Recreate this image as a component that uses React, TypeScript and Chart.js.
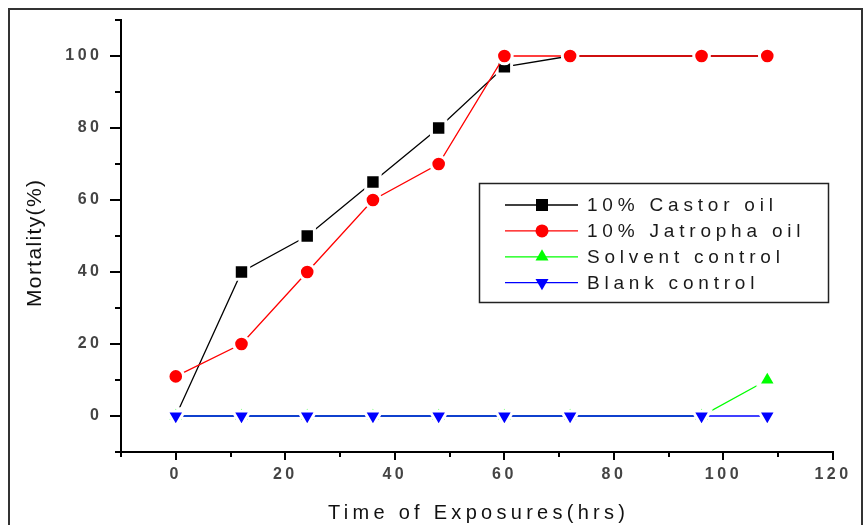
import React, { useEffect, useRef } from 'react';
import { Chart, registerables } from 'chart.js';

Chart.register(...registerables);

// ---- data ----
const hours = [0, 12, 24, 36, 48, 60, 72, 96, 108];
const castorOil = [0, 40, 50, 65, 80, 97, 100, 100, 100];
const jatrophaOil = [11, 20, 40, 60, 70, 100, 100, 100, 100];
const solventControl = [0, 0, 0, 0, 0, 0, 0, 0, 10];
const blankControl = [0, 0, 0, 0, 0, 0, 0, 0, 0];
const seriesLabels = ['10% Castor oil', '10% Jatropha oil', 'Solvent control', 'Blank control'];
const xTickLabels = [0, 20, 40, 60, 80, 100, 120];
const yTickLabels = [0, 20, 40, 60, 80, 100];
const xTitle = 'Time of Exposures(hrs)';
const yTitle = 'Mortality(%)';

const FONT = "'Liberation Sans', Arial, sans-serif";

const toPoints = (ys: number[]) => hours.map((h, i) => ({ x: h, y: ys[i] }));

function drawMarker(ctx: CanvasRenderingContext2D, style: string, rotation: number, x: number, y: number, color: string) {
  ctx.save();
  ctx.fillStyle = color;
  ctx.beginPath();
  if (style === 'rect') {
    ctx.rect(x - 6, y - 6, 12, 12);
  } else if (style === 'circle') {
    ctx.arc(x, y, 6.5, 0, Math.PI * 2);
  } else {
    const R = 7.5;
    const s = rotation === 180 ? -1 : 1;
    ctx.moveTo(x, y - s * R);
    ctx.lineTo(x + R * 0.866, y + s * R / 2);
    ctx.lineTo(x - R * 0.866, y + s * R / 2);
    ctx.closePath();
  }
  ctx.fill();
  ctx.restore();
}

function drawFitText(
  ctx: CanvasRenderingContext2D, text: string, cx: number, cy: number, font: string,
  width: number, color: string, baseline: CanvasTextBaseline, rotate = 0
) {
  ctx.save();
  ctx.translate(cx, cy);
  if (rotate) ctx.rotate(rotate);
  ctx.font = font;
  ctx.fillStyle = color;
  ctx.textBaseline = baseline;
  ctx.textAlign = 'left';
  (ctx as any).letterSpacing = '0px';
  const w = ctx.measureText(text).width;
  const sp = (width - w) / (text.length - 1);
  (ctx as any).letterSpacing = sp + 'px';
  ctx.fillText(text, -width / 2, 0);
  ctx.restore();
}

const decorPlugin = {
  id: 'decor',
  beforeUpdate(chart: any) {
    chart.ctx.letterSpacing = '3.5px';
  },
  beforeDraw(chart: any) {
    const ctx: CanvasRenderingContext2D = chart.ctx;
    ctx.save();
    ctx.fillStyle = '#ffffff';
    ctx.fillRect(0, 0, chart.width, chart.height);
    ctx.strokeStyle = '#333333';
    ctx.lineWidth = 2;
    ctx.beginPath();
    ctx.moveTo(9, 525);
    ctx.lineTo(9, 9);
    ctx.lineTo(862, 9);
    ctx.lineTo(862, 525);
    ctx.stroke();
    ctx.restore();
    (ctx as any).letterSpacing = '3.5px';
  },
  afterDraw(chart: any) {
    const ctx: CanvasRenderingContext2D = chart.ctx;
    const xs = chart.scales.x;
    const ys = chart.scales.y;
    const area = chart.chartArea;
    // tick marks
    ctx.save();
    ctx.strokeStyle = '#000';
    ctx.lineWidth = 2;
    ys.ticks.forEach((t: any) => {
      const py = Math.round(ys.getPixelForValue(t.value));
      const major = yTickLabels.includes(t.value);
      const len = major ? 11 : 6;
      ctx.beginPath();
      ctx.moveTo(area.left - len, py);
      ctx.lineTo(area.left, py);
      ctx.stroke();
    });
    xs.ticks.forEach((t: any) => {
      const px = Math.round(xs.getPixelForValue(t.value));
      const major = xTickLabels.includes(t.value);
      const len = major ? 8 : 5;
      ctx.beginPath();
      ctx.moveTo(px, area.bottom);
      ctx.lineTo(px, area.bottom + len);
      ctx.stroke();
    });
    ctx.restore();

    // axis titles
    drawFitText(ctx, xTitle, 476.5, 519, `20px ${FONT}`, 297, '#111', 'alphabetic');
    drawFitText(ctx, yTitle, 35, 243.5, `21px ${FONT}`, 127, '#111', 'middle', -Math.PI / 2);

    // legend
    ctx.save();
    ctx.strokeStyle = '#222';
    ctx.lineWidth = 1.5;
    ctx.strokeRect(479.5, 183.5, 349, 119);
    chart.data.datasets.forEach((ds: any, i: number) => {
      const y = 205 + i * 25.9;
      ctx.strokeStyle = ds.borderColor;
      ctx.lineWidth = 1.3;
      ctx.beginPath();
      ctx.moveTo(505, y);
      ctx.lineTo(578, y);
      ctx.stroke();
      drawMarker(ctx, ds.pointStyle, ds.pointRotation || 0, 542, y, ds.borderColor);
      ctx.font = `19px ${FONT}`;
      (ctx as any).letterSpacing = '4.8px';
      ctx.fillStyle = '#1a1a1a';
      ctx.textAlign = 'left';
      ctx.textBaseline = 'middle';
      ctx.fillText(ds.label, 587, y + 1);
    });
    ctx.restore();
  },
};

export default function App() {
  const ref = useRef<HTMLCanvasElement | null>(null);
  useEffect(() => {
    if (!ref.current) return;
    const common = { pointBorderColor: '#ffffff', pointBorderWidth: 3, borderWidth: 1.3, tension: 0 };
    const chart = new Chart(ref.current, {
      type: 'line',
      data: {
        datasets: [
          {
            ...common, label: seriesLabels[0], data: toPoints(castorOil), borderColor: '#000000',
            pointBackgroundColor: '#000000', pointStyle: 'rect', pointRadius: 10.2, order: 3,
          },
          {
            ...common, label: seriesLabels[1], data: toPoints(jatrophaOil), borderColor: '#ff0000',
            pointBackgroundColor: '#ff0000', pointStyle: 'circle', pointRadius: 7.8, order: 2,
          },
          {
            ...common, label: seriesLabels[2], data: toPoints(solventControl), borderColor: '#00ff00',
            pointBackgroundColor: '#00ff00', pointStyle: 'triangle', pointRadius: 10.2, order: 1,
          },
          {
            ...common, label: seriesLabels[3], data: toPoints(blankControl), borderColor: '#0000ff',
            pointBackgroundColor: '#0000ff', pointStyle: 'triangle', pointRotation: 180, pointRadius: 10.2, order: 0,
          },
        ] as any,
      },
      options: {
        responsive: false,
        animation: false,
        devicePixelRatio: 1,
        layout: { padding: { left: 0, right: 30, top: 20, bottom: 0 } },
        plugins: { legend: { display: false }, tooltip: { enabled: false } },
        scales: {
          x: {
            type: 'linear',
            min: -10,
            max: 120,
            afterFit: (s: any) => { s.height = 73; s.paddingLeft = 0; s.paddingRight = 0; },
            grid: { display: false, drawTicks: false },
            border: { display: true, color: '#000', width: 2 },
            ticks: {
              stepSize: 10,
              autoSkip: false,
              maxRotation: 0,
              padding: 13,
              color: '#444',
              font: { family: FONT, size: 16, weight: 'bold' },
              callback: (v: any) => (xTickLabels.includes(Number(v)) ? String(v) : ''),
            },
          },
          y: {
            type: 'linear',
            min: -10,
            max: 110,
            afterFit: (s: any) => { s.width = 121; s.paddingTop = 0; s.paddingBottom = 0; },
            grid: { display: false, drawTicks: false },
            border: { display: true, color: '#000', width: 2 },
            ticks: {
              stepSize: 10,
              autoSkip: false,
              padding: 18.5,
              color: '#444',
              font: { family: FONT, size: 16, weight: 'bold' },
              callback: (v: any) => (yTickLabels.includes(Number(v)) ? String(v) : ''),
            },
          },
        },
      } as any,
      plugins: [decorPlugin],
    });
    return () => chart.destroy();
  }, []);
  return (
    <div style={{ position: 'fixed', left: 0, top: 0, width: 863, height: 525, background: '#fff' }}>
      <canvas ref={ref} width={863} height={525} style={{ display: 'block', width: 863, height: 525 }} />
    </div>
  );
}
